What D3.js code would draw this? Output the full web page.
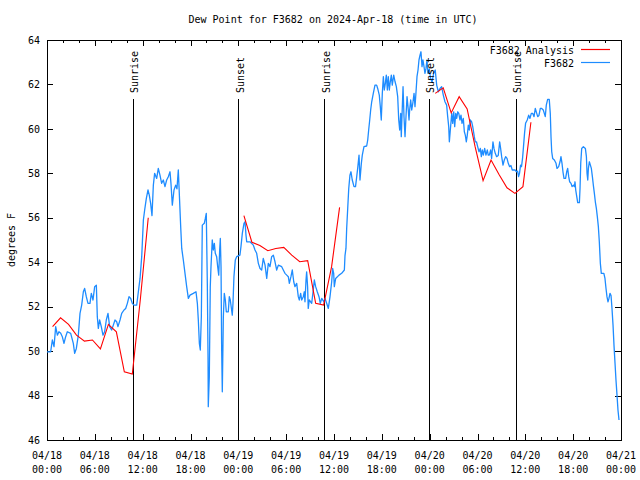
<!DOCTYPE html>
<html><head><meta charset="utf-8">
<script src="https://cdn.jsdelivr.net/npm/d3@7"></script>
<style>
body{margin:0;background:#fff}
svg text{font-family:"DejaVu Sans Mono",monospace;font-size:10px;fill:#000}
</style>
</head><body>
<svg id="c" width="640" height="480"></svg>
<script>
const titleText = "Dew Point for F3682 on 2024-Apr-18 (time in UTC)";
const yLabelText = "degrees F";
const xTickHours = [0,6,12,18,24,30,36,42,48,54,60,66,72];
const xTickDates = ["04/18","04/18","04/18","04/18","04/19","04/19","04/19","04/19","04/20","04/20","04/20","04/20","04/21"];
const xTickTimes = ["00:00","06:00","12:00","18:00","00:00","06:00","12:00","18:00","00:00","06:00","12:00","18:00","00:00"];
const xMinorHours = d3.range(0, 73, 2);
const yTicks = [46,48,50,52,54,56,58,60,62,64];
const seriesNames = ["F3682 Analysis","F3682"];
const seriesColors = ["#ff0000","#1e8cff"];
const eventNames = ["Sunrise","Sunset","Sunrise","Sunset","Sunrise"];
const eventHours = [10.83, 24.05, 34.84, 47.97, 58.89];

// analysis (hourly, hours since 04/18 00:00 UTC); null = no value
const analysisHours = d3.range(0.7, 61, 1);
const analysisDew = [
 51.1,51.5,51.2,50.72,50.45,50.5,50.1,51.2,50.87,49.07,48.97,52.3,56.0,
 null,null,null,null,null,null,null,null,null,null,null,
 56.1,54.9,54.75,54.52,54.62,54.67,54.32,54.02,54.07,52.15,52.07,53.8,56.47,
 null,null,null,null,null,null,null,null,null,null,null,
 61.6,61.85,60.72,61.45,60.9,59.2,57.67,58.6,57.95,57.35,57.1,57.4,60.3
];

// observations (hours since 04/18 00:00 UTC)
const obsHours = [
0,0.46,0.67,0.88,1.09,1.3,1.5,1.72,1.92,2.13,2.34,2.55,2.97,3.3,3.47,3.68,3.93,4.14,4.35,4.56,4.72,4.93,5.14,5.39,5.56,5.77,5.98,6.19,6.31,6.44,6.6,6.81,7.02,7.23,7.44,7.65,7.86,8.11,8.32,8.53,8.74,8.9,9.16,9.37,9.66,9.87,10.08,10.29,10.5,10.7,10.91,11.25,11.46,11.67,11.88,12.09,12.25,12.46,12.67,12.83,13.0,13.17,13.34,13.5,13.76,13.96,14.17,14.38,14.59,14.8,15.01,15.22,15.43,15.55,15.72,15.93,16.14,16.3,16.47,16.56,16.77,16.9,17.1,17.31,17.52,17.73,17.94,18.35,18.69,18.86,18.98,19.11,19.23,19.36,19.48,19.73,19.86,19.98,20.11,20.2,20.23,20.36,20.48,20.57,20.73,20.86,20.99,21.11,21.28,21.41,21.54,21.66,21.74,21.83,21.91,21.99,22.12,22.24,22.37,22.49,22.74,22.87,22.99,23.12,23.24,23.33,23.45,23.62,23.79,24.2,24.33,24.5,24.71,24.84,24.96,25.05,25.46,25.88,26.09,26.3,26.51,26.72,26.93,27.13,27.35,27.56,27.76,27.97,28.18,28.39,28.6,28.81,29.02,29.44,29.64,29.85,30.07,30.27,30.4,30.6,30.77,30.95,31.1,31.32,31.52,31.65,31.82,31.95,32.15,32.27,32.36,32.49,32.57,32.69,32.77,32.9,33.2,33.4,33.53,33.7,33.9,34.12,34.28,34.46,34.74,34.87,35.08,35.29,35.5,35.71,35.83,35.96,36.04,36.21,36.63,36.96,37.3,37.38,37.5,37.59,37.72,37.85,38.0,38.13,38.29,38.51,38.7,38.85,38.97,39.14,39.26,39.43,39.55,39.76,40.1,40.23,40.35,40.48,40.6,40.73,40.93,41.14,41.35,41.48,41.68,41.81,41.93,42.06,42.19,42.31,42.44,42.56,42.69,42.81,42.94,43.06,43.19,43.31,43.49,43.66,43.82,43.99,44.12,44.24,44.37,44.44,44.57,44.66,44.78,44.91,45.03,45.16,45.28,45.41,45.49,45.62,45.75,45.91,46.04,46.16,46.29,46.41,46.54,46.66,46.79,46.91,47.04,47.16,47.29,47.41,47.54,47.66,47.79,47.95,48.1,48.3,48.5,48.7,48.88,49.09,49.3,49.5,49.71,49.92,50.13,50.26,50.39,50.47,50.59,50.77,50.89,51.02,51.14,51.27,51.39,51.52,51.65,51.8,51.93,52.06,52.22,52.35,52.47,52.6,52.72,52.85,52.97,53.1,53.27,53.4,53.47,53.6,53.72,53.87,54.02,54.19,54.35,54.48,54.6,54.73,54.9,55.06,55.23,55.35,55.48,55.65,55.77,55.94,56.08,56.23,56.4,56.6,56.78,56.9,57.03,57.2,57.36,57.53,57.7,57.86,58.03,58.2,58.36,58.7,58.9,59.03,59.15,59.27,59.4,59.52,59.65,59.77,59.9,60.03,60.24,60.42,60.58,60.75,60.92,61.09,61.25,61.43,61.55,61.7,61.88,62.05,62.25,62.38,62.5,62.63,62.8,63.0,63.13,63.22,63.31,63.43,63.64,63.85,63.97,64.18,64.35,64.47,64.6,64.72,64.85,65.05,65.19,65.31,65.44,65.56,65.73,65.86,66.03,66.15,66.23,66.32,66.45,66.57,66.78,66.86,66.95,67.07,67.28,67.53,67.66,67.74,67.83,67.91,68.03,68.16,68.28,68.41,68.53,68.66,68.78,68.91,69.03,69.16,69.28,69.41,69.53,69.85,69.99,70.12,70.24,70.37,70.49,70.62,70.75,70.87,71.0,71.12,71.25,71.37,71.5,71.62,71.75
];
const obsDew = [
49.97,49.97,50.5,50.2,51.1,50.72,50.87,50.8,50.65,50.35,50.65,50.87,50.8,50.35,49.9,50.12,50.72,51.7,52.07,52.67,52.82,52.45,52.15,52.15,52.6,52.3,52.9,52.97,51.55,51.02,51.4,51.1,50.72,50.87,51.4,51.7,51.1,50.95,51.17,51.4,51.32,51.1,51.4,51.7,51.85,51.92,52.15,52.45,52.37,52.15,52.07,52.07,52.67,53.27,54.25,55.9,56.35,56.87,57.25,57.02,56.65,56.1,57.47,58.0,57.77,58.22,57.92,57.55,57.7,57.4,57.7,57.85,58.07,57.55,56.57,57.25,57.47,57.3,58.15,57.4,55.6,54.62,54.1,53.5,52.9,52.37,52.52,52.6,52.67,52.15,51.4,50.35,50.05,51.55,55.67,55.75,55.97,56.2,53.05,49.67,47.5,48.85,52.9,53.8,55.0,54.55,54.85,54.4,54.25,53.8,53.42,54.55,55.07,53.8,50.05,48.17,51.55,52.6,52.3,51.77,51.77,52.45,52.3,51.95,51.62,52.15,53.35,54.1,54.25,54.32,54.7,55.3,55.75,55.82,55.22,54.92,54.92,54.77,54.55,54.4,53.95,53.72,53.65,54.17,53.87,53.27,53.95,53.8,54.25,54.32,54.02,53.65,53.87,53.8,53.65,53.5,53.42,53.35,53.05,53.35,53.65,53.12,52.9,53.05,52.45,52.3,52.6,52.3,52.45,52.67,52.22,53.2,53.57,52.9,51.92,52.3,52.15,52.75,53.2,52.9,52.67,52.45,52.15,52.37,52.22,52.37,52.15,51.92,52.45,53.12,53.72,53.5,52.9,53.27,53.42,53.5,53.65,54.3,54.62,55.52,56.42,57.32,57.92,58.07,57.7,57.4,57.4,57.85,58.22,58.82,57.7,58.45,58.82,59.2,59.23,59.5,59.95,60.4,60.85,61.22,61.6,61.97,61.97,61.82,61.52,61.0,60.4,61.6,62.35,61.75,62.05,62.42,61.75,62.35,61.75,62.12,62.42,61.97,62.42,62.12,61.9,61.45,60.4,59.95,60.7,59.65,61.0,61.9,60.55,59.65,60.55,61.45,61.0,60.4,60.85,61.3,60.85,61.22,61.6,61.0,61.67,62.35,62.65,63.1,63.32,63.47,62.8,63.1,62.8,62.5,62.72,63.1,62.5,62.7,62.3,62.1,62.5,62.65,61.97,61.67,61.82,61.9,61.52,61.22,61.07,60.55,60.1,59.42,59.95,60.7,60.25,60.77,60.1,60.7,60.47,60.77,60.7,60.4,60.62,60.25,60.47,59.87,59.72,59.42,59.72,60.17,59.95,60.4,60.32,60.1,59.95,59.65,59.42,59.42,59.2,58.97,59.12,58.75,59.05,58.82,59.12,58.82,59.05,58.82,58.82,59.05,58.67,59.42,59.1,58.9,58.75,58.8,59.42,59.12,58.75,58.37,58.6,58.75,58.67,58.45,58.3,58.35,58.15,58.15,58.07,58.1,57.85,58.0,58.37,58.3,58.67,59.2,59.8,60.25,60.4,60.62,60.47,60.7,60.7,60.55,60.92,60.7,60.55,60.6,60.92,60.92,60.85,60.7,60.55,61.07,61.33,61.33,60.7,59.65,58.97,58.67,58.6,58.45,58.22,58.3,58.52,58.75,58.45,58.07,57.77,57.77,58.07,58.22,57.85,57.62,57.55,57.4,57.47,57.4,57.62,57.25,56.95,56.68,56.68,57.32,58.45,59.12,59.2,59.12,58.75,58.0,57.7,58.22,58.52,58.37,58.22,57.85,57.47,57.1,56.72,56.42,56.05,55.6,54.92,53.95,53.5,53.5,53.27,52.82,52.45,52.22,52.37,52.6,52.5,51.92,51.17,50.27,49.45,48.7,48.02,47.35,46.9
];

const L = 47, R = 621, T = 40, B = 440;
const svg = d3.select("#c");
const x = d3.scaleLinear().domain([0, 72]).range([L, R]);
const y = d3.scaleLinear().domain([46, 64]).range([B, T]);

function styleAxis(g){
  g.select(".domain").remove();
  g.selectAll("line").attr("stroke","#000").attr("shape-rendering","crispEdges");
  g.attr("font-family", null).attr("font-size", null);
}
// minor x ticks
svg.append("g").attr("transform",`translate(0,${B})`)
  .call(d3.axisBottom(x).tickValues(xMinorHours).tickSize(-3).tickFormat("")).call(styleAxis);
svg.append("g").attr("transform",`translate(0,${T})`)
  .call(d3.axisTop(x).tickValues(xMinorHours).tickSize(-3).tickFormat("")).call(styleAxis);
// major x ticks
svg.append("g").attr("transform",`translate(0,${B})`)
  .call(d3.axisBottom(x).tickValues(xTickHours).tickSize(-6).tickFormat("")).call(styleAxis);
svg.append("g").attr("transform",`translate(0,${T})`)
  .call(d3.axisTop(x).tickValues(xTickHours).tickSize(-6).tickFormat("")).call(styleAxis);
// y ticks
svg.append("g").attr("transform",`translate(${L},0)`)
  .call(d3.axisLeft(y).tickValues(yTicks).tickSize(-6).tickPadding(7).tickFormat(d3.format("d"))).call(styleAxis);
svg.append("g").attr("transform",`translate(${R},0)`)
  .call(d3.axisRight(y).tickValues(yTicks).tickSize(-6).tickFormat("")).call(styleAxis);

// x tick labels (two lines)
const xl = svg.append("g");
xTickHours.forEach((h,i)=>{
  xl.append("text").attr("x", x(h)).attr("y", 459).attr("text-anchor","middle").text(xTickDates[i]);
  xl.append("text").attr("x", x(h)).attr("y", 473).attr("text-anchor","middle").text(xTickTimes[i]);
});

// frame
svg.append("rect").attr("x",L).attr("y",T).attr("width",R-L).attr("height",B-T)
  .attr("fill","none").attr("stroke","#000").attr("shape-rendering","crispEdges");

// title & y label
svg.append("text").attr("x",333).attr("y",23).attr("text-anchor","middle").text(titleText);
svg.append("text").attr("transform","translate(15,240) rotate(-90)").attr("text-anchor","middle").text(yLabelText);

// event lines
eventHours.forEach((h,i)=>{
  svg.append("line").attr("x1",x(h)).attr("x2",x(h)).attr("y1",99).attr("y2",B)
    .attr("stroke","#000").attr("shape-rendering","crispEdges");
});

// series
const obsLine = d3.line().x((d,i)=>x(obsHours[i])).y(d=>y(d));
svg.append("path").datum(obsDew).attr("d",obsLine).attr("fill","none")
  .attr("stroke",seriesColors[1]).attr("stroke-width",1.3).attr("stroke-linejoin","round");
const anLine = d3.line().defined(d=>d!==null).x((d,i)=>x(analysisHours[i])).y(d=>y(d));
svg.append("path").datum(analysisDew).attr("d",anLine).attr("fill","none")
  .attr("stroke",seriesColors[0]).attr("stroke-width",1.1);

// event labels
eventHours.forEach((h,i)=>{
  svg.append("text").attr("transform",`translate(${x(h)+5},93) rotate(-90)`)
    .attr("text-anchor","start").text(eventNames[i]);
});

// legend
seriesNames.forEach((n,i)=>{
  const yy = 50 + i*13;
  svg.append("text").attr("x",574).attr("y",yy+3.5).attr("text-anchor","end").text(n);
  svg.append("line").attr("x1",581).attr("x2",610).attr("y1",yy-0.5).attr("y2",yy-0.5)
    .attr("stroke",seriesColors[i]).attr("stroke-width",1.2);
});
</script>
</body></html>
